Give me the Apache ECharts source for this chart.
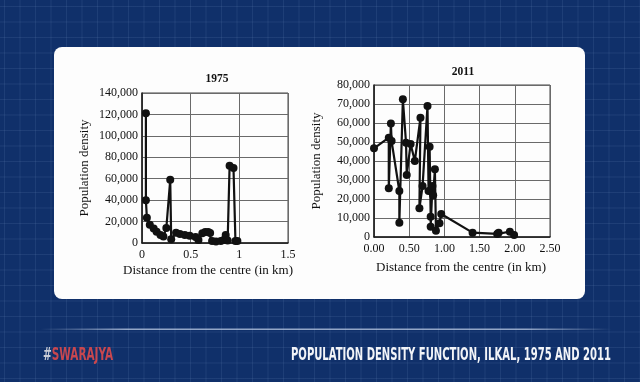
<!DOCTYPE html>
<html><head><meta charset="utf-8">
<script src="https://cdn.jsdelivr.net/npm/echarts@6/dist/echarts.min.js"></script>
<style>
html,body{margin:0;padding:0;width:640px;height:382px;overflow:hidden;}
body{background-color:#10306a;
background-image:linear-gradient(rgba(160,190,235,0.10) 1px, transparent 1px),linear-gradient(90deg, rgba(160,190,235,0.10) 1px, transparent 1px);
background-size:15.5px 15.5px;background-position:4px 6px;}
#card{position:absolute;left:54px;top:47px;width:531px;height:252px;background:#fdfdfd;border-radius:8px;}
#chart{position:absolute;left:0;top:0;width:640px;height:382px;}
</style></head><body><div id="card"></div><div id="chart"></div>
<script>
// 1975 data (distance in km, population density)
const dist1975 = [0.04,0.04,0.05,0.08,0.12,0.15,0.19,0.22,0.25,0.29,0.30,0.35,0.39,0.44,0.49,0.55,0.58,0.62,0.65,0.68,0.70,0.72,0.76,0.81,0.84,0.86,0.88,0.90,0.94,0.96,0.98];
const dens1975 = [121000,40000,23500,17000,13500,10500,7500,6000,14000,59000,3500,9500,8500,7500,6800,5600,2800,9000,10300,10300,9300,1800,1500,1800,2800,7500,2300,72000,70000,1900,1900];
// 2011 data
const dist2011 = [0.00,0.21,0.21,0.24,0.25,0.36,0.36,0.41,0.455,0.465,0.52,0.58,0.66,0.645,0.69,0.76,0.775,0.79,0.805,0.805,0.83,0.84,0.865,0.88,0.93,0.955,1.40,1.75,1.77,1.93,1.99];
const dens2011 = [46700,52300,25600,59800,50500,24200,7500,72500,49600,32600,49000,40000,62800,15100,26800,69000,24200,47500,10700,5400,26800,22000,35600,3300,7200,12100,2300,1600,2300,2800,1000];
// texts
const title1975 = '1975';
const title2011 = '2011';
const yName = 'Population density';
const xName = 'Distance from the centre (in km)';
const brandHash = '#';
const brandName = 'SWARAJYA';
const footerTitle = 'POPULATION DENSITY FUNCTION, ILKAL, 1975 AND 2011';

const serif = "'Liberation Serif','DejaVu Serif',serif";
const cond = "'Liberation Sans Narrow','DejaVu Sans Condensed','Roboto',sans-serif";

function measure(text, font){
  const c = document.createElement('canvas').getContext('2d');
  c.font = font; return c.measureText(text).width;
}
const footSize = 17;
const footFont = 'bold ' + footSize + 'px ' + cond;
const sTitle = 320 / measure(footerTitle, footFont);
const sBrand = 70 / measure(brandHash + brandName, footFont);

const fmtK = v => v.toLocaleString('en-US');
const axisText = {fontFamily: serif, fontSize: 12, color: '#111'};

function xAxis(idx, max, fmt){
  return {type:'value', gridIndex: idx, min:0, max:max, interval:0.5,
    axisLine:{show:true, lineStyle:{color:'#1a1a1a', width:1.5}},
    axisTick:{show:false},
    splitLine:{show:true, lineStyle:{color:'#6a6a6a', width:1}},
    axisLabel:Object.assign({margin:6, formatter: fmt}, axisText)};
}
function yAxis(idx, max, step){
  return {type:'value', gridIndex: idx, min:0, max:max, interval:step,
    axisLine:{show:true, lineStyle:{color:'#1a1a1a', width:1.5}},
    axisTick:{show:false},
    splitLine:{show:true, lineStyle:{color:'#6a6a6a', width:1}},
    axisLabel:Object.assign({margin:4, formatter: fmtK}, axisText)};
}
function series(idx, xs, ys){
  return {type:'line', xAxisIndex: idx, yAxisIndex: idx,
    data: xs.map((x,i)=>[x, ys[i]]),
    symbol:'circle', symbolSize:8, showSymbol:true,
    lineStyle:{color:'#111', width:2.2}, itemStyle:{color:'#111'},
    animation:false, silent:true};
}
function txt(text, x, y, opts){
  return Object.assign({type:'text', x:x, y:y, silent:true,
    style:Object.assign({text:text, fill:'#111', font: '13px ' + serif, textAlign:'center', textVerticalAlign:'middle'}, (opts||{}).style||{})},
    (opts||{}).el||{});
}

const chart = echarts.init(document.getElementById('chart'), null, {renderer:'canvas'});
chart.setOption({
  animation:false,
  backgroundColor:'transparent',
  grid:[
    {left:142, top:93, width:146, height:150, show:true, borderColor:'#444', borderWidth:1, backgroundColor:'transparent'},
    {left:374, top:85, width:176, height:152, show:true, borderColor:'#444', borderWidth:1, backgroundColor:'transparent'}
  ],
  xAxis:[ xAxis(0, 1.5, v => String(v)), xAxis(1, 2.5, v => v.toFixed(2)) ],
  yAxis:[ yAxis(0, 140000, 20000), yAxis(1, 80000, 10000) ],
  series:[ series(0, dist1975, dens1975), series(1, dist2011, dens2011) ],
  graphic:[
    txt(title1975, 217, 79, {style:{font:'bold 11.5px ' + serif}}),
    txt(title2011, 463, 72, {style:{font:'bold 11.5px ' + serif}}),
    txt(yName, 85, 168, {el:{rotation: Math.PI/2}}),
    txt(yName, 317, 161, {el:{rotation: Math.PI/2}}),
    txt(xName, 208, 271),
    txt(xName, 461, 268),
    {type:'rect', silent:true, shape:{x:40, y:328.5, width:572, height:1.5},
      style:{fill:{type:'linear', x:0, y:0, x2:1, y2:0, colorStops:[
        {offset:0, color:'rgba(190,205,230,0)'},
        {offset:0.15, color:'rgba(190,205,230,0.75)'},
        {offset:0.85, color:'rgba(190,205,230,0.75)'},
        {offset:1, color:'rgba(190,205,230,0)'}]}}},
    {type:'text', silent:true, x:43, y:356, scaleX:sBrand, scaleY:1,
      style:{text:'{a|' + brandHash + '}{b|' + brandName + '}', font: footFont, textAlign:'left', textVerticalAlign:'middle',
        rich:{a:{fill:'#c9ccd6', font: footFont}, b:{fill:'#c8474f', font: footFont}}}},
    {type:'text', silent:true, x:611, y:356, scaleX:sTitle, scaleY:1,
      style:{text: footerTitle, fill:'#f2f4f8', font: footFont, textAlign:'right', textVerticalAlign:'middle'}}
  ]
});
</script>
</body></html>
